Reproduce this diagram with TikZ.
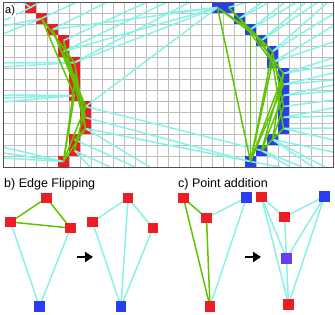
\documentclass[tikz,border=0pt]{standalone}
\usepackage{fontspec}
\setmainfont{Liberation Sans}
\usetikzlibrary{arrows.meta}
\pgfdeclarelayer{bg}
\pgfsetlayers{bg,main}
\definecolor{cred}{HTML}{EE1D25}
\definecolor{cblue}{HTML}{2B3DF0}
\definecolor{cpurple}{HTML}{6B3CF0}
\definecolor{ccyan}{HTML}{88F2E6}
\definecolor{cgreen}{HTML}{5FC400}
\definecolor{cgrid}{HTML}{BDBDBD}
\definecolor{cframe}{HTML}{505050}
\begin{document}
\begin{tikzpicture}[x=1pt,y=-1pt,
  gridline/.style={cgrid, line width=1pt},
  cyanline/.style={ccyan, line width=1.5pt},
  greenline/.style={cgreen, line width=1.5pt},
  sq/.style={minimum size=10.5pt, inner sep=0pt, draw=none},
  rsq/.style={sq, fill=cred},
  bsq/.style={sq, fill=cblue},
  psq/.style={sq, fill=cpurple},
  bigarrow/.style={line width=2.6pt, -{Triangle[length=8pt,width=10pt]}},
  label/.style={font=\fontsize{12.5}{14}\selectfont, anchor=base west, inner sep=0pt}
]
\useasboundingbox (0,0) rectangle (335,314);

% ---------- panel a ----------
\foreach \i in {1,...,29} \draw[gridline] ({3+11*\i},2) -- ({3+11*\i},167);
\foreach \j in {1,...,14} \draw[gridline] (3,{2+11*\j}) -- (333,{2+11*\j});

% cells
\foreach \n/\i/\j in {0/2/0,1/3/1,2/4/2,3/5/3,4/5/4,5/6/5,6/6/6,7/6/7,8/6/8,9/7/9,10/7/10,11/7/11,12/6/12,13/6/13,14/5/14}{
  \fill[cred] ({3+11*\i},{2+11*\j}) rectangle ++(11,11);
  \coordinate (r\n) at ({8.5+11*\i},{7.5+11*\j});
}
\foreach \n/\i/\j in {0/19/0,0b/20/0,1/21/1,2/22/2,3/23/3,4/24/4,5/24/5,6/25/6,7/25/7,8/25/8,9/25/9,10/25/10,11/25/11,12/24/12,13/23/13,14/22/14}{
  \fill[cblue] ({3+11*\i},{2+11*\j}) rectangle ++(11,11);
  \coordinate (b\n) at ({8.5+11*\i},{7.5+11*\j});
}

\begin{scope}
\clip (3,2) rectangle (333,167);
% cyan rays, left curve
\draw[cyanline] (r0) -- (3,21);
\draw[cyanline] (r0) -- (22,2);
\draw[cyanline] (r0) -- (40,2);
\draw[cyanline] (r1) -- (3,34);
\draw[cyanline] (r1) -- (3,26);
\draw[cyanline] (r1) -- (77,2);
\draw[cyanline] (r2) -- (107,2);
\draw[cyanline] (r2) -- (b0);
\draw[cyanline] (r3) -- (147,2);
\draw[cyanline] (r4) -- (167,2);
\draw[cyanline] (r4) -- (b0);
\draw[cyanline] (r5) -- (b0);
\draw[cyanline] (r5) -- (190,2);
\draw[cyanline] (r5) -- (3,63);
\draw[cyanline] (r5) -- (3,67);
\draw[cyanline] (r8) -- (3,95);
\draw[cyanline] (r8) -- (3,98);
\draw[cyanline] (r8) -- (3,102);
\draw[cyanline] (r9) -- (b0);
\draw[cyanline] (r9) -- (b13);
\draw[cyanline] (r10) -- (b14);
\draw[cyanline] (r11) -- (b14);
\draw[cyanline] (r11) -- (150,167);
\draw[cyanline] (r12) -- (135,167);
\draw[cyanline] (r13) -- (110,167);
\draw[cyanline] (r13) -- (90,167);
\draw[cyanline] (r14) -- (3,147);
\draw[cyanline] (r14) -- (3,153);
\draw[cyanline] (r14) -- (3,158);
% cyan rays, right curve
\draw[cyanline] (b0) -- (165,13);
\draw[cyanline] (b0b) -- (248,2);
\draw[cyanline] (b1) -- (262,2);
\draw[cyanline] (b1) -- (270,2);
\draw[cyanline] (b2) -- (285,2);
\draw[cyanline] (b2) -- (297,2);
\draw[cyanline] (b3) -- (306,2);
\draw[cyanline] (b3) -- (318,2);
\draw[cyanline] (b4) -- (328,2);
\draw[cyanline] (b4) -- (333,14);
\draw[cyanline] (b5) -- (333,26);
\draw[cyanline] (b5) -- (333,42);
\draw[cyanline] (b6) -- (333,58);
\draw[cyanline] (b6) -- (333,65);
\draw[cyanline] (b7) -- (333,73);
\draw[cyanline] (b7) -- (333,80);
\draw[cyanline] (b8) -- (333,85);
\draw[cyanline] (b8) -- (333,91);
\draw[cyanline] (b9) -- (333,100);
\draw[cyanline] (b10) -- (333,108);
\draw[cyanline] (b10) -- (333,116);
\draw[cyanline] (b11) -- (333,128);
\draw[cyanline] (b11) -- (333,140);
\draw[cyanline] (b12) -- (333,152);
\draw[cyanline] (b12) -- (325,167);
\draw[cyanline] (b12) -- (313,167);
\draw[cyanline] (b13) -- (302,167);
\draw[cyanline] (b13) -- (290,167);
\draw[cyanline] (b14) -- (280,167);
% green triangulation, left curve
\draw[greenline] (r1) -- (r5);
\draw[greenline] (r1) -- (r8);
\draw[greenline] (r2) -- (r7);
\draw[greenline] (r2) -- (r9);
\draw[greenline] (r3) -- (r10);
\draw[greenline] (r4) -- (r9);
\draw[greenline] (r3) -- (r11);
\draw[greenline] (r5) -- (r11);
\draw[greenline] (r6) -- (r10);
\draw[greenline] (r8) -- (r14);
\draw[greenline] (r9) -- (r14);
\draw[greenline] (r9) -- (r13);
\draw[greenline] (r11) -- (r12);
\draw[greenline] (r11) -- (r14);
\draw[greenline] (r7) -- (r14);
% green triangulation, right curve
\draw[greenline] (b0) -- (b14);
\draw[greenline] (b2) -- (b14);
\draw[greenline] (b0) -- (b2);
\draw[greenline] (b0) -- (b3);
\draw[greenline] (b0b) -- (b4);
\draw[greenline] (b1) -- (b5);
\draw[greenline] (b2) -- (b6);
\draw[greenline] (b3) -- (b7);
\draw[greenline] (b4) -- (b9);
\draw[greenline] (b5) -- (b11);
\draw[greenline] (b6) -- (b12);
\draw[greenline] (b8) -- (b13);
\draw[greenline] (b14) -- (b4);
\draw[greenline] (b14) -- (b5);
\draw[greenline] (b14) -- (b6);
\draw[greenline] (b14) -- (b7);
\draw[greenline] (b13) -- (b6);
\draw[greenline] (b12) -- (b9);
\draw[greenline] (b13) -- (b11);
\end{scope}

\node[fill=white, inner sep=1pt, anchor=base west, font=\fontsize{11}{13}\selectfont] (la) at (4,13.5) {a)};
\draw[cframe, line width=1pt] (3,2) rectangle (333,167);

% ---------- panel b ----------
\node[label] (lb) at (4,187.5) {b) Edge Flipping};
\node[rsq] (bL1) at (46.5,198) {};
\node[rsq] (bL2) at (10.5,222) {};
\node[rsq] (bL3) at (70.5,228) {};
\node[bsq] (bL4) at (39.5,306.5) {};
\node[rsq] (bR1) at (128,198) {};
\node[rsq] (bR2) at (92.5,222) {};
\node[rsq] (bR3) at (153,228) {};
\node[bsq] (bR4) at (121,306.5) {};
\begin{pgfonlayer}{bg}
\draw[greenline] (bL1.center) -- (bL2.center);
\draw[greenline] (bL1.center) -- (bL3.center);
\draw[greenline] (bL2.center) -- (bL3.center);
\draw[cyanline] (bL2.center) -- (bL4.center);
\draw[cyanline] (bL3.center) -- (bL4.center);
\draw[cyanline] (bR1.center) -- (bR2.center);
\draw[cyanline] (bR1.center) -- (bR3.center);
\draw[cyanline] (bR1.center) -- (bR4.center);
\draw[cyanline] (bR2.center) -- (bR4.center);
\draw[cyanline] (bR3.center) -- (bR4.center);
\end{pgfonlayer}
\coordinate (aB1) at (77,257);
\coordinate (aB2) at (93,257);
\draw[bigarrow] (aB1) -- (aB2);

% ---------- panel c ----------
\node[label] (lc) at (178,187.5) {c) Point addition};
\node[rsq] (cL1) at (183.5,198) {};
\node[rsq] (cL2) at (206.5,218) {};
\node[bsq] (cL3) at (246.5,197.5) {};
\node[rsq] (cL4) at (210,306.5) {};
\node[rsq] (cR1) at (261.5,197) {};
\node[rsq] (cR2) at (284.5,217) {};
\node[bsq] (cR3) at (324.5,196.5) {};
\node[psq] (cR5) at (286.5,258.5) {};
\node[rsq] (cR4) at (288.5,304.5) {};
\begin{pgfonlayer}{bg}
\draw[greenline] (cL1.center) -- (cL2.center);
\draw[greenline] (cL1.center) -- (cL4.center);
\draw[greenline] (cL2.center) -- (cL4.center);
\draw[cyanline] (cL2.center) -- (cL3.center);
\draw[cyanline] (cL3.center) -- (cL4.center);
\draw[cyanline] (cR1.center) -- (cR2.center);
\draw[cyanline] (cR2.center) -- (cR3.center);
\draw[cyanline] (cR1.center) -- (cR5.center);
\draw[cyanline] (cR1.center) -- (cR4.center);
\draw[cyanline] (cR2.center) -- (cR5.center);
\draw[cyanline] (cR3.center) -- (cR5.center);
\draw[cyanline] (cR3.center) -- (cR4.center);
\draw[cyanline] (cR5.center) -- (cR4.center);
\end{pgfonlayer}
\coordinate (aC1) at (245,257);
\coordinate (aC2) at (261,257);
\draw[bigarrow] (aC1) -- (aC2);
\end{tikzpicture}
\end{document}
